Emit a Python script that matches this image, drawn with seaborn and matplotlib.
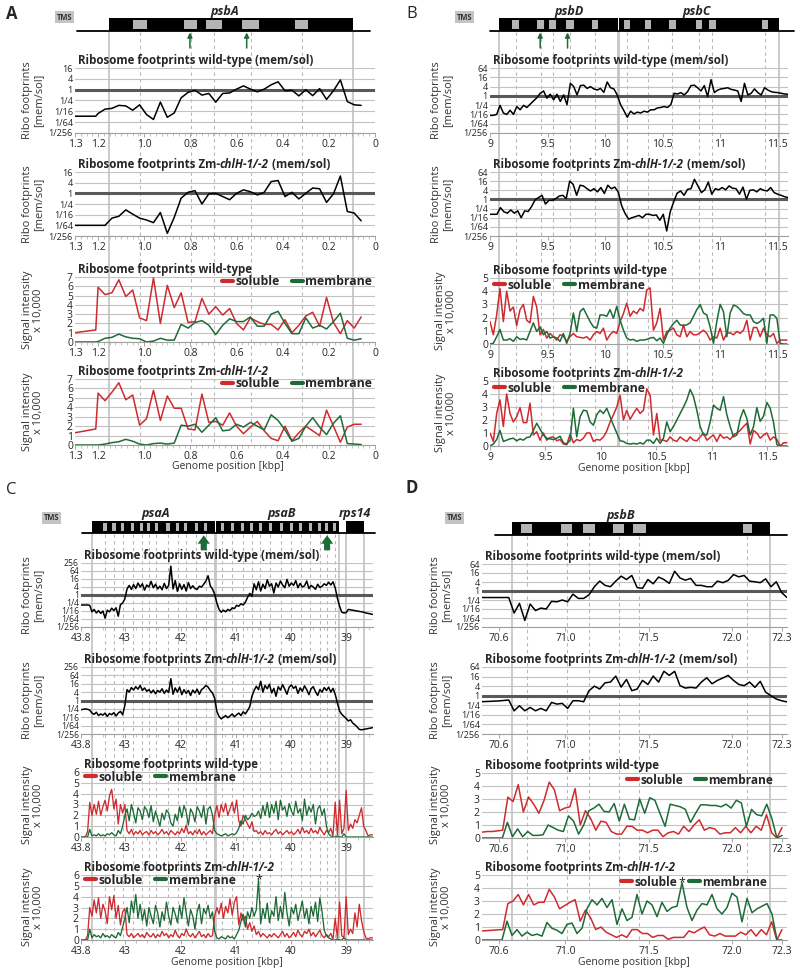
import numpy as np
import matplotlib
matplotlib.use("Agg")
import matplotlib.pyplot as plt
import seaborn as sns
from matplotlib.lines import Line2D
from matplotlib.patches import Rectangle
from matplotlib.ticker import MultipleLocator
from matplotlib.transforms import blended_transform_factory

sns.set_theme(style="white")
plt.rcParams['font.family'] = ['Open Sans', 'DejaVu Sans']

# ---------------- data ----------------
# panel A (psbA), genome position in kbp, ratios as log2(mem/sol)
x_A = [1.30, 1.21, 1.20, 1.17, 1.14, 1.11, 1.08, 1.05, 1.02, 0.99, 0.96, 0.93, 0.90, 0.87,
       0.84, 0.81, 0.78, 0.75, 0.72, 0.69, 0.66, 0.63, 0.60, 0.57, 0.54, 0.51, 0.48, 0.45,
       0.42, 0.39, 0.36, 0.33, 0.30, 0.27, 0.24, 0.21, 0.18, 0.15, 0.12, 0.09, 0.06]
ribo_wt_A = [-4.9, -4.9, -4.4, -3.6, -3.45, -2.9, -3.0, -3.8, -2.8, -4.6, -5.5, -2.3, -5.1, -4.3,
             -1.5, -0.5, -0.1, -1.0, -0.7, -2.3, -0.7, -0.6, 0.1, 0.7, 0.1, -0.4, 0.1, 0.9,
             1.45, -0.2, -0.1, -1.15, 0.0, -1.1, 0.2, -1.8, -0.2, 1.8, -2.2, -2.8, -2.9]
ribo_mut_A = [-6.0, -6.0, -6.0, -6.0, -4.65, -4.3, -3.1, -3.9, -4.65, -5.0, -5.5, -3.6, -7.5, -4.5,
              -0.9, 0.2, 0.5, -2.0, -0.1, 0.0, -0.6, -1.2, 0.0, 0.65, 0.3, -0.3, 0.2, 2.2,
              2.4, -0.6, 0.2, -1.05, 0.0, 1.0, 0.85, -1.7, -0.1, 3.25, -3.4, -3.7, -5.15]
sol_wt_A = [1.0, 1.3, 5.9, 5.1, 5.3, 6.7, 4.9, 5.6, 2.6, 2.3, 6.9, 2.0, 6.1, 3.7, 5.3, 2.1, 2.2,
            4.7, 3.0, 3.8, 2.9, 3.6, 2.0, 1.3, 2.6, 2.2, 1.9, 1.9, 1.3, 2.4, 1.0, 1.8, 2.8, 3.2,
            1.7, 4.8, 2.1, 0.9, 2.3, 1.5, 2.7]
mem_wt_A = [0.0, 0.0, 0.05, 0.4, 0.5, 0.85, 0.55, 0.4, 0.35, 0.0, 0.1, 0.4, 0.2, 0.2, 1.9, 1.5,
            2.1, 2.3, 1.8, 0.8, 1.8, 2.5, 2.2, 2.2, 2.7, 1.7, 1.7, 3.0, 3.3, 2.0, 0.9, 0.9, 2.6,
            1.5, 1.8, 1.4, 2.2, 3.1, 0.4, 0.2, 0.35]
sol_mut_A = [1.3, 1.7, 5.5, 4.7, 5.6, 6.6, 4.8, 5.3, 2.1, 2.8, 5.8, 2.6, 5.2, 3.9, 3.9, 1.7, 1.6,
             5.4, 2.4, 2.5, 2.1, 3.4, 2.0, 1.2, 1.9, 2.5, 1.5, 0.7, 0.45, 2.0, 0.45, 1.3, 2.0,
             1.5, 1.0, 3.7, 2.0, 0.3, 1.9, 2.2, 2.2]
mem_mut_A = [0.0, 0.0, 0.0, 0.1, 0.25, 0.35, 0.6, 0.4, 0.1, 0.0, 0.15, 0.2, 0.1, 0.2, 2.1, 2.0,
             2.2, 1.35, 2.1, 2.9, 1.5, 1.6, 2.2, 1.9, 2.4, 2.0, 1.6, 3.2, 2.6, 1.6, 0.4, 0.7,
             2.0, 2.9, 1.9, 1.1, 2.3, 3.1, 0.15, 0.1, 0.05]

# panel B (psbD/psbC), evenly spaced bins
ribo_wt_B = [-4.2, -4.2, -4.0, -2.05, -3.7, -4.0, -3.1, -4.0, -2.3, -3.0, -2.05, -2.5, -1.8, -1.1,
             -0.4, 0.55, 1.05, -0.5, 0.35, -0.85, 0.35, -1.2, 0.2, -1.9, 2.7, 2.0, 0.2, 2.2, 2.3,
             1.6, 2.0, 1.5, 1.25, 1.6, 0.75, 3.0, 1.75, 1.5, 0.2, -1.9, -3.2, -4.6, -3.3, -3.9,
             -3.5, -3.7, -3.3, -3.5, -3.0, -3.0, -2.6, -2.5, -2.3, -2.5, -1.9, 0.55, 0.4, 0.7,
             0.2, 0.9, 2.2, 2.3, 1.75, 1.05, 2.2, -0.15, 3.5, 0.7, 1.25, 1.5, 1.6, 1.75, 1.4,
             1.25, 1.05, -1.2, 2.7, 0.2, 0.55, 1.5, 0.7, 0.2, 1.75, 1.25, 0.9, 0.75, 0.7, 0.55,
             0.4, 0.35]
ribo_mut_B = [-3.25, -3.25, -3.25, -1.8, -2.7, -3.0, -2.3, -3.0, -2.5, -4.0, -2.5, -2.65, -1.55,
              -0.1, 0.4, 0.9, -1.0, -0.2, -0.2, 0.2, 0.75, 0.9, 0.2, 4.0, 3.3, 0.9, 3.1, 2.95,
              2.35, 1.85, 2.35, 1.65, 2.6, 1.3, 3.1, 2.35, 2.7, 1.65, -1.4, -3.1, -4.3, -4.0,
              -3.75, -3.5, -4.0, -3.25, -3.25, -3.5, -3.4, -4.55, -3.25, -6.9, -2.75, -0.55, 1.35,
              1.85, 0.9, 2.2, 2.35, 4.4, 2.95, 1.5, 2.1, 3.8, 1.15, 2.35, 2.1, 2.6, 2.1, 2.95,
              2.45, 2.35, 1.15, 2.7, 0.05, 2.0, 2.1, 1.65, 2.35, 2.0, 1.85, 2.6, 1.5, 1.15, 0.9,
              0.6, 0.4]
sol_wt_B = [1.7, 0.7, 2.2, 4.2, 1.7, 4.0, 2.5, 2.8, 1.4, 2.6, 3.0, 1.8, 1.6, 3.6, 2.8, 0.7, 1.1,
            0.45, 0.8, 0.55, 0.3, 0.7, 0.6, 0.2, 0.55, 0.8, 0.55, 0.5, 0.45, 0.55, 0.3, 0.7, 0.95,
            0.8, 1.2, 0.3, 0.7, 0.95, 0.8, 1.7, 2.3, 3.1, 2.1, 2.5, 2.3, 2.7, 2.5, 4.1, 4.25, 1.05,
            1.6, 2.7, 0.3, 0.95, 1.05, 1.2, 0.7, 0.55, 1.45, 0.55, 0.95, 0.7, 0.7, 0.85, 1.05, 0.8,
            0.3, 0.55, 0.45, 1.2, 0.3, 0.8, 0.85, 0.7, 0.95, 0.8, 1.05, 1.8, 0.3, 1.25, 1.25, 0.55,
            1.2, 0.7, 0.55, 0.8, 0.05, 0.3, 0.3, 0.3]
mem_wt_B = [0.0, 0.05, 0.55, 1.1, 0.3, 0.3, 0.4, 0.2, 0.55, 0.35, 0.4, 0.3, 0.95, 1.6, 0.95, 1.3,
            0.7, 0.95, 0.45, 0.55, 0.45, 0.2, 0.8, 0.05, 0.8, 2.35, 0.95, 2.45, 2.7, 2.2, 1.7, 1.3,
            1.2, 2.2, 2.2, 2.1, 2.6, 1.95, 2.85, 1.8, 1.05, 0.45, 0.3, 0.35, 0.2, 0.3, 0.3, 0.35,
            0.45, 0.5, 0.25, 0.45, 0.05, 0.7, 1.2, 1.55, 1.8, 1.45, 1.4, 1.45, 1.6, 2.1, 2.6, 3.0,
            2.35, 2.2, 1.3, 0.05, 1.7, 3.0, 2.45, 0.55, 2.35, 2.95, 2.85, 2.6, 2.3, 2.2, 2.2, 1.7,
            1.55, 1.7, 1.95, 0.05, 2.2, 2.2, 1.95, 0.05, 0.0, 0.0]
sol_mut_B = [1.0, 0.35, 2.5, 3.55, 1.5, 4.0, 2.5, 1.85, 2.25, 2.95, 1.8, 1.8, 3.3, 0.85, 1.1, 0.45,
             1.0, 0.45, 0.65, 0.7, 0.4, 0.5, 0.15, 0.1, 0.9, 0.25, 0.5, 0.4, 0.6, 1.0, 1.0, 0.35,
             0.5, 0.45, 0.7, 1.15, 1.85, 2.4, 3.0, 3.9, 2.0, 2.75, 2.05, 2.5, 2.9, 2.5, 2.75, 4.4,
             3.9, 0.85, 2.5, 0.45, 0.45, 0.35, 0.7, 0.45, 0.35, 0.7, 0.5, 0.35, 0.7, 0.45, 0.4,
             0.7, 1.0, 0.45, 0.65, 0.85, 0.35, 0.9, 0.6, 0.7, 0.5, 0.85, 1.0, 1.2, 1.5, 1.75, 0.15,
             1.2, 1.0, 0.6, 0.85, 1.0, 0.45, 0.7, 0.5, 0.0, 0.25, 0.25]
mem_mut_B = [0.0, 0.15, 0.5, 1.2, 0.35, 0.45, 0.55, 0.6, 0.4, 0.55, 0.45, 0.65, 0.7, 1.2, 1.75,
             1.3, 0.85, 0.6, 0.55, 0.5, 0.6, 0.75, 0.25, 0.15, 0.45, 2.9, 0.7, 2.25, 2.75, 2.7,
             1.85, 1.6, 2.4, 2.75, 2.5, 2.9, 2.25, 1.6, 1.0, 0.4, 0.35, 0.2, 0.15, 0.2, 0.15, 0.25,
             0.15, 0.45, 0.45, 0.2, 0.6, 0.2, 0.6, 1.85, 1.1, 1.5, 2.0, 2.5, 3.0, 3.55, 4.35, 3.8,
             2.75, 1.5, 0.85, 0.85, 1.85, 3.15, 2.9, 2.75, 3.8, 2.4, 1.5, 0.7, 0.85, 2.1, 2.8, 2.1,
             0.85, 1.5, 2.95, 1.9, 2.3, 3.35, 2.9, 1.8, 0.1, 0.0, 0.0, 0.0]

# panel C (psaA/psaB/rps14)
ribo_wt_C = [-2.5, -2.5, -2.5, -2.5, -2.6, -4.2, -3.6, -4.5, -3.9, -4.6, -4.0, -5.8, -3.8, -4.2,
             -3.3, -3.9, -3.2, -5.3, -2.4, -2.0, -1.0, 1.5, 2.4, 1.4, 2.6, 1.6, 3.0, 2.0, 2.8, 1.2,
             2.5, 2.0, 3.4, 1.8, 2.7, 1.5, 2.2, 1.3, 2.9, 1.6, 2.4, 7.2, 1.5, 3.6, 0.9, 2.8, 1.4,
             2.6, 1.0, 3.1, 1.6, 2.3, 1.6, 1.4, 2.2, 2.0, 2.7, 3.5, 4.8, 2.3, 1.5, 0.2, -2.0, -3.6,
             -4.3, -3.8, -4.2, -3.6, -3.9, -3.2, -3.4, -2.6, -2.8, -2.2, -2.5, -1.8, -0.6, 0.4,
             -0.3, 2.8, 1.3, 3.3, 1.0, 2.7, 1.6, 3.8, 2.2, 2.8, 0.5, 3.0, 2.0, 3.5, 2.5, 1.8, 3.9,
             2.2, 3.0, 2.4, 3.6, 1.8, 2.9, 2.0, 2.3, 3.5, 1.6, 2.4, 2.0, 1.4, 2.7, 1.9, 2.2, 2.8,
             2.4, 3.2, 2.5, 3.3, 1.8, -0.8, -2.8, -4.3, -4.5, -4.4, -3.6, -3.7, -3.8, -3.9, -4.0,
             -4.1, -4.2, -4.3, -4.5, -4.6, -4.7, -4.85]
ribo_mut_C = [-2.2, -2.1, -2.0, -2.1, -2.3, -3.0, -3.3, -2.8, -3.6, -3.2, -3.5, -3.0, -3.8, -3.1,
              -3.4, -2.9, -3.7, -3.0, -2.6, -3.4, -1.2, 2.6, 2.0, 3.1, 2.5, 3.3, 2.7, 3.6, 2.4,
              3.0, 2.2, 2.6, 1.8, 2.5, 1.6, 2.4, 2.0, 2.8, 1.7, 2.5, 1.9, 5.2, 1.5, 3.0, 2.0, 3.2,
              1.4, 2.6, 1.7, 2.4, 1.2, 2.5, 1.8, 2.7, 1.5, 2.6, 3.0, 3.6, 3.2, 2.4, 1.8, 0.5, -2.6,
              -3.8, -4.4, -4.0, -3.6, -4.1, -3.7, -3.2, -3.9, -3.4, -3.0, -3.6, -2.7, -3.2, -2.4,
              -1.5, 1.0, 2.4, 3.4, 2.6, 4.6, 2.0, 3.6, 2.8, 3.9, 1.8, 2.9, 1.0, 3.3, 2.5, 3.8, 2.7,
              1.5, 3.2, 3.7, 2.9, 3.4, 1.7, 3.0, 2.2, 3.5, 2.6, 1.4, 2.8, 3.3, 2.1, 1.2, 2.6, 2.0,
              3.1, 2.4, 3.2, 2.0, 2.9, 1.5, -0.6, -2.5, -3.3, -3.8, -4.3, -4.9, -4.6, -5.4, -5.8,
              -6.3, -6.9, -7.0, -6.9, -6.8, -6.7, -6.6, -6.5]
sol_wt_C = [0.0, 0.0, 0.0, 0.5, 3.2, 2.0, 3.0, 2.1, 3.3, 2.0, 2.8, 3.4, 2.4, 3.8, 4.4, 2.6, 3.5,
            1.2, 3.0, 2.2, 3.0, 0.6, 0.3, 0.7, 0.2, 0.5, 0.3, 0.6, 0.2, 0.4, 0.5, 0.2, 0.6, 0.3,
            0.5, 0.2, 0.4, 0.7, 0.3, 0.5, 0.2, 0.6, 0.4, 0.2, 0.5, 0.3, 0.8, 0.4, 1.1, 0.3, 0.5,
            0.2, 0.6, 0.3, 0.7, 0.2, 0.5, 0.2, 0.4, 0.6, 0.3, 2.0, 2.9, 1.8, 3.0, 2.3, 3.1, 2.0,
            2.6, 3.2, 2.2, 3.4, 1.5, 1.0, 2.0, 1.6, 1.2, 0.8, 1.4, 0.5, 0.6, 0.3, 0.5, 0.2, 0.6,
            0.3, 0.4, 0.2, 0.5, 0.7, 0.3, 0.5, 0.2, 0.4, 0.6, 0.3, 0.5, 0.2, 0.4, 0.7, 0.3, 0.9,
            0.4, 0.6, 0.3, 0.8, 0.4, 0.6, 0.3, 0.9, 0.5, 0.2, 0.6, 0.4, 0.8, 0.1, 3.2, 0.2, 3.4,
            0.3, 0.8, 4.3, 0.6, 1.2, 0.8, 1.6, 1.3, 2.0, 2.7, 1.0, 0.6, 0.1, 0.2, 0.2]
mem_wt_C = [0.0, 0.0, 0.0, 0.0, 0.7, 0.1, 0.2, 0.1, 0.3, 0.1, 0.2, 0.1, 0.3, 0.2, 0.4, 0.2, 0.1,
            0.6, 0.3, 1.0, 2.0, 2.6, 1.5, 3.0, 2.2, 1.3, 2.7, 2.4, 1.6, 2.8, 2.5, 1.8, 2.9, 1.4,
            2.4, 1.7, 1.0, 2.2, 1.6, 2.5, 2.2, 1.3, 1.0, 2.1, 1.5, 2.8, 1.8, 2.9, 2.3, 1.1, 2.6,
            2.2, 1.4, 2.8, 2.4, 1.8, 2.9, 1.2, 2.6, 2.8, 2.0, 0.6, 0.3, 0.2, 0.1, 0.2, 0.3, 0.1,
            0.2, 0.3, 0.2, 0.4, 0.8, 1.5, 1.2, 2.0, 1.6, 1.8, 2.2, 1.9, 2.0, 2.4, 1.7, 2.9, 2.0,
            3.2, 1.8, 3.0, 2.2, 3.3, 1.6, 3.4, 2.5, 2.8, 1.9, 3.1, 2.4, 2.0, 3.3, 2.2, 2.6, 1.5,
            3.5, 2.0, 2.8, 2.3, 3.0, 1.2, 2.6, 2.9, 2.0, 2.6, 1.0, 0.3, 0.1, 0.0, 0.0, 0.1, 0.0,
            0.0, 0.3, 0.0, 0.0, 0.0, 0.0, 0.0, 0.0, 0.0, 0.0, 0.0, 0.0, 0.0, 0.0, 0.0]
sol_mut_C = [0.0, 0.0, 0.0, 0.4, 3.0, 2.2, 3.7, 2.5, 3.9, 2.0, 3.3, 2.7, 1.5, 4.0, 2.8, 4.1, 2.0,
             3.2, 1.4, 2.6, 2.9, 0.5, 0.3, 0.6, 0.2, 0.4, 0.6, 0.3, 0.5, 0.2, 0.7, 0.4, 0.3, 0.6,
             0.2, 0.5, 0.3, 0.8, 0.4, 0.6, 0.2, 0.5, 0.3, 0.9, 0.4, 0.2, 0.6, 0.4, 1.0, 0.5, 0.3,
             0.6, 0.2, 0.5, 0.8, 0.3, 0.5, 0.2, 0.6, 0.3, 0.4, 2.2, 3.0, 2.4, 3.4, 2.0, 3.1, 2.5,
             3.8, 2.3, 3.5, 4.0, 1.4, 2.5, 1.8, 2.2, 1.0, 1.6, 0.8, 1.3, 0.5, 0.8, 0.3, 0.6, 0.4,
             0.2, 0.5, 0.3, 0.6, 0.4, 0.2, 0.5, 0.8, 0.3, 0.6, 0.2, 0.4, 0.7, 0.3, 0.9, 0.5, 0.3,
             0.8, 0.6, 1.0, 0.4, 0.7, 0.3, 0.6, 0.9, 0.4, 0.2, 0.5, 0.3, 0.6, 0.1, 2.0, 0.2, 3.5,
             0.4, 0.2, 4.0, 0.5, 1.0, 0.6, 2.5, 1.2, 3.3, 1.8, 0.8, 0.2, 0.1, 0.2, 0.2]
mem_mut_C = [0.0, 0.0, 0.0, 0.0, 1.0, 0.2, 0.5, 0.3, 0.4, 0.2, 0.6, 0.3, 0.4, 0.2, 0.5, 0.3, 0.2,
             0.7, 0.4, 1.2, 2.0, 3.0, 1.6, 3.6, 2.5, 4.2, 2.0, 3.3, 1.8, 2.8, 1.3, 3.0, 2.2, 1.5,
             3.2, 2.5, 1.2, 2.6, 1.8, 3.5, 2.2, 1.4, 3.0, 2.4, 1.6, 3.2, 2.0, 3.9, 2.5, 1.3, 2.8,
             2.2, 1.0, 2.6, 3.3, 1.5, 2.9, 2.4, 3.2, 2.0, 2.6, 0.8, 0.2, 0.1, 0.3, 0.2, 0.1, 0.4,
             0.2, 0.3, 0.1, 0.5, 0.9, 1.7, 2.4, 1.2, 2.6, 2.0, 3.0, 2.2, 2.8, 5.6, 1.5, 2.9, 2.0,
             3.4, 1.6, 2.7, 2.2, 4.0, 1.8, 3.1, 2.0, 4.4, 2.5, 1.3, 3.0, 2.4, 3.3, 1.8, 2.7, 3.6,
             2.0, 2.9, 1.5, 3.1, 2.2, 3.5, 1.7, 3.9, 2.6, 0.9, 0.4, 0.2, 0.1, 0.0, 0.0, 0.1, 0.0,
             0.0, 0.2, 0.0, 0.0, 0.0, 0.0, 0.0, 0.0, 0.0, 0.0, 0.0, 0.0, 0.0, 0.0, 0.0]

# panel D (psbB)
ribo_wt_D = [-1.45, -1.45, -1.45, -1.45, -1.45, -1.45, -4.9, -2.75, -6.55, -2.9, -4.35, -3.8,
             -4.0, -2.3, -2.4, -2.0, -2.4, -0.7, -1.65, -1.65, -0.85, 0.95, 2.2, 1.25, 0.95, 2.2,
             3.3, 2.55, 3.45, 0.75, 0.6, 2.55, 1.6, 3.1, 2.55, 1.7, 4.4, 2.9, 2.4, 2.8, 1.25,
             1.25, 0.95, 0.95, 2.2, 1.85, 2.35, 3.65, 3.15, 3.45, 2.2, 2.05, 1.85, 2.7, 0.95,
             2.05, -0.35, -1.45]
ribo_mut_D = [-1.25, -1.2, -1.15, -1.1, -1.0, -0.9, -3.15, -2.1, -3.15, -2.45, -3.15, -2.65,
              -3.15, -1.4, -1.75, -1.6, -2.65, -1.05, -1.05, -1.25, 1.05, 2.0, 1.4, 2.7, 2.85,
              4.1, 1.8, 3.4, 1.05, 1.4, 3.2, 2.35, 4.1, 2.85, 5.1, 4.25, 5.1, 2.1, 1.6, 1.75, 1.6,
              2.85, 3.75, 2.5, 3.2, 3.7, 4.25, 3.2, 2.35, 2.1, 2.85, 1.75, 3.0, 0.75, 0.0, -0.7,
              -1.05, -1.3]
sol_wt_D = [0.45, 0.5, 0.5, 0.55, 0.6, 3.15, 2.8, 4.1, 2.0, 3.15, 2.6, 1.9, 2.9, 4.3, 3.7, 2.1,
            2.3, 2.4, 3.8, 1.0, 2.1, 1.5, 0.6, 1.3, 1.2, 0.5, 0.3, 0.3, 0.9, 0.9, 0.6, 0.6, 0.4,
            0.6, 0.6, 0.1, 0.4, 0.5, 0.3, 0.9, 0.5, 1.0, 1.4, 0.6, 0.8, 0.7, 0.3, 0.4, 0.4, 0.8,
            0.4, 0.9, 0.4, 0.9, 0.6, 1.8, 0.4, 0.0, 0.8]
mem_wt_D = [0.0, 0.0, 0.0, 0.0, 0.0, 1.2, 0.1, 0.7, 0.1, 0.5, 0.2, 0.2, 0.25, 1.0, 0.8, 0.6, 0.5,
            1.7, 1.3, 0.3, 1.0, 2.1, 2.3, 2.6, 2.05, 2.0, 2.65, 1.3, 2.6, 1.45, 1.4, 3.0, 1.9,
            3.1, 2.9, 1.9, 0.9, 2.6, 2.5, 2.4, 2.2, 1.2, 1.9, 2.55, 2.55, 2.5, 2.5, 2.4, 2.6, 2.3,
            2.9, 2.7, 0.9, 2.2, 1.8, 1.7, 2.6, 1.5, 0.0, 0.2]
sol_mut_D = [0.7, 0.72, 0.75, 0.78, 0.8, 2.8, 3.0, 3.5, 2.7, 3.5, 2.7, 2.9, 2.9, 3.9, 3.3, 2.4,
             2.65, 2.9, 3.1, 1.45, 2.3, 1.7, 0.8, 1.0, 0.6, 0.4, 0.2, 0.4, 0.2, 0.8, 0.8, 0.5, 0.5,
             0.2, 0.35, 0.35, 0.05, 0.2, 0.2, 0.2, 0.7, 0.55, 0.8, 1.0, 0.4, 0.3, 0.5, 0.3, 0.3,
             0.3, 0.6, 0.4, 0.8, 0.3, 0.8, 0.4, 1.4, 0.0, 0.8]
mem_mut_D = [0.0, 0.0, 0.0, 0.0, 0.0, 1.45, 0.35, 0.8, 0.3, 0.6, 0.35, 0.45, 0.3, 1.35, 0.9, 0.75,
             0.5, 1.2, 1.3, 0.5, 0.9, 2.4, 3.1, 2.7, 3.2, 2.5, 3.1, 1.2, 2.4, 1.5, 1.75, 3.5, 2.0,
             3.0, 2.7, 1.8, 2.9, 2.2, 2.5, 2.6, 4.4, 2.5, 1.5, 2.3, 2.8, 2.7, 3.5, 2.4, 2.0, 2.5,
             3.6, 3.3, 1.4, 3.2, 2.1, 2.4, 2.6, 2.8, 2.0, 0.0, 0.0]

# gene models (kbp): boxes, TMS stripes, arrows, names
genes_A = [(1.153, 0.094)]
tms_A = [(1.047, 0.989), (0.828, 0.770), (0.734, 0.664), (0.578, 0.501), (0.347, 0.289)]
arrows_A = [0.802, 0.556]
names_A = [('psbA', 0.65)]
genes_B = [(9.081, 10.115), (10.125, 11.508)]
tms_B = [(9.189, 9.255), (9.412, 9.471), (9.514, 9.575), (9.657, 9.726), (9.887, 9.939),
         (10.162, 10.221), (10.343, 10.395), (10.555, 10.616), (10.787, 10.846),
         (10.903, 10.962), (11.36, 11.418)]
arrows_B = [9.436, 9.674]
names_B = [('psbD', 9.69), ('psbC', 10.80)]
genes_C = [(43.607, 41.385), (41.365, 39.143), (39.004, 38.674)]
tms_C = [(43.395, 43.335), (43.235, 43.175), (43.075, 43.015), (42.895, 42.835),
         (42.735, 42.675), (42.605, 42.545), (42.465, 42.405), (42.255, 42.195),
         (42.085, 42.025), (41.935, 41.875), (41.745, 41.685), (41.575, 41.515),
         (41.275, 41.215), (41.095, 41.035), (40.905, 40.845), (40.745, 40.685),
         (40.585, 40.525), (40.405, 40.345), (40.205, 40.145), (40.025, 39.965),
         (39.855, 39.795), (39.685, 39.625), (39.515, 39.455), (39.385, 39.325),
         (39.245, 39.185)]
arrows_C = [41.58, 39.35]
names_C = [('psaA', 42.45), ('psaB', 40.17), ('rps14', 38.85)]
genes_D = [(70.68, 72.23)]
tms_D = [(70.735, 70.80), (70.974, 71.04), (71.104, 71.18), (71.287, 71.353), (71.406, 71.482),
         (72.064, 72.12)]
names_D = [('psbB', 71.33)]

RATIO = {-8: '1/256', -6: '1/64', -4: '1/16', -2: '1/4', 0: '1', 2: '4', 4: '16', 6: '64', 8: '256'}

# ---------------- drawing ----------------
RED = '#cf2a2e'
GREEN = '#1d6b37'
GRID = '#c2c2c2'
W, H = 800, 969
fig = plt.figure(figsize=(8, 9.69), dpi=100)


def px_ax(left, top, right, bottom):
    ax = fig.add_axes([left / W, 1 - bottom / H, (right - left) / W, (bottom - top) / H])
    ax.set_facecolor('none')
    return ax


def style_x(ax, xlim, ticks, labels, minor=None):
    ax.set_xlim(*xlim)
    ax.set_xticks(ticks)
    ax.set_xticklabels(labels)
    if minor:
        ax.xaxis.set_minor_locator(MultipleLocator(minor))
    ax.tick_params(axis='x', which='major', bottom=True, length=3, width=0.6, color='#999',
                   labelsize=7.5, pad=1.5)
    ax.tick_params(axis='x', which='minor', bottom=True, length=2, width=0.5, color='#aaa')
    ax.tick_params(axis='y', length=0, pad=1.5)
    for s in ['top', 'right', 'left']:
        ax.spines[s].set_visible(False)
    ax.spines['bottom'].set_color('#a0a0a0')
    ax.spines['bottom'].set_linewidth(0.8)
    ax.set_xlabel('')
    ax.set_ylabel('')


def title(ax, parts, size=8.3):
    prev = None
    for txt, ital in parts:
        kw = dict(fontsize=size, fontweight='bold', fontstyle='italic' if ital else 'normal',
                  va='bottom', ha='left', annotation_clip=False)
        if prev is None:
            prev = ax.annotate(txt, xy=(0, 1), xycoords='axes fraction', xytext=(2, 0.5),
                               textcoords='offset points', **kw)
        else:
            prev = ax.annotate(txt, xy=(1, 0), xycoords=prev, **kw)


def ribo(ax, pos, vals, top, ysize=6.6):
    sns.lineplot(x=pos, y=vals, ax=ax, color='black', lw=1.1)
    ax.set_ylim(-8, top)
    ticks = list(range(-8, top + 1, 2))
    ax.set_yticks(ticks)
    ax.set_yticklabels([RATIO[t] for t in ticks], fontsize=ysize)
    ax.grid(axis='y', color=GRID, lw=0.8)
    ax.axhline(0, color='#595959', lw=2.2, zorder=1.5)


def signal(ax, pos_s, sol, pos_m, mem, ymax, loc, anchor, lw=1.1, lsize=8.8):
    sns.lineplot(x=pos_s, y=sol, ax=ax, color=RED, lw=lw)
    sns.lineplot(x=pos_m, y=mem, ax=ax, color=GREEN, lw=lw)
    ax.set_ylim(0, ymax)
    ax.set_yticks(range(0, ymax + 1))
    ax.set_yticklabels([str(v) for v in range(0, ymax + 1)], fontsize=7.5)
    ax.grid(axis='y', color=GRID, lw=0.8)
    handles = [Line2D([], [], color=RED, lw=3), Line2D([], [], color=GREEN, lw=3)]
    ax.legend(handles, ['soluble', 'membrane'], loc=loc, bbox_to_anchor=anchor, ncol=2,
              frameon=False, handlelength=0.9, handletextpad=0.2, columnspacing=1.0,
              borderpad=0, borderaxespad=0, prop={'weight': 'bold', 'size': lsize})


def star(ax, pos, vals):
    i = int(np.argmax(vals))
    ax.text(pos[i], vals[i], '*', ha='center', va='center', fontsize=9, color='#222')


def gene_track(gax, xlim, top_px, bot_px, genes, tms, arrows, names, bar, base, vline_end,
               block=False):
    gax.set_xlim(*xlim)
    gax.set_ylim(bot_px, top_px)
    gax.axis('off')
    y0, y1 = bar
    gax.plot([base[0], base[1]], [y1, y1], color='black', lw=1.3, clip_on=False, zorder=1)
    for a, b in genes:
        gax.add_patch(Rectangle((min(a, b), y0), abs(b - a), y1 - y0, fc='black', ec='none',
                                zorder=2))
    for a, b in tms:
        gax.add_patch(Rectangle((min(a, b), y0 + 2.0), abs(b - a), y1 - y0 - 4.0,
                                fc='#b4b4b4', ec='none', zorder=3))
    for name, xc in names:
        gax.text(xc, y0 - 0.5, name, ha='center', va='bottom', fontsize=9, fontweight='bold',
                 fontstyle='italic')
    for xa in arrows:
        if block:
            gax.annotate('', xy=(xa, y1 + 2), xytext=(xa, y1 + 17),
                         arrowprops=dict(arrowstyle='simple,head_width=0.8,head_length=0.55,'
                                                    'tail_width=0.4', fc=GREEN, ec='none',
                                         mutation_scale=11, shrinkA=0, shrinkB=0))
        else:
            gax.annotate('', xy=(xa, y1 + 1.5), xytext=(xa, y1 + 17),
                         arrowprops=dict(arrowstyle='-|>', color=GREEN, lw=1.1,
                                         mutation_scale=7, shrinkA=0, shrinkB=0))
    tr = blended_transform_factory(gax.transData, fig.transFigure)
    ya, yb = 1 - (y1 + 1) / H, 1 - vline_end / H
    solid = [g for pair in genes for g in pair]
    for xs in solid:
        fig.add_artist(Line2D([xs, xs], [ya, yb], transform=tr, color='#c6c6c6', lw=1.3,
                              zorder=-1))
    for a, b in tms:
        xm = (a + b) / 2
        fig.add_artist(Line2D([xm, xm], [ya, yb], transform=tr, color='#b8b8b8', lw=0.8,
                              ls=(0, (3, 3)), zorder=-1))


def ylab(x, y, txt):
    fig.text(x / W, 1 - y / H, txt, rotation=90, ha='center', va='center', fontsize=8,
             linespacing=1.0, color='#333')


def label(x, y, txt, bold):
    fig.text(x / W, 1 - y / H, txt, fontsize=12, fontweight='bold' if bold else 'normal',
             va='center', ha='left')


def tms_tag(x, y):
    fig.text(x / W, 1 - y / H, 'TMS', fontsize=5.5, fontweight='bold', color='#333',
             va='center', ha='left',
             bbox=dict(boxstyle='square,pad=0.2', fc='#c4c4c4', ec='none'))


WT = [('Ribosome footprints wild-type (mem/sol)', False)]
MUT = [('Ribosome footprints Zm-', False), ('chlH-1/-2', True), (' (mem/sol)', False)]
WT_S = [('Ribosome footprints wild-type', False)]
MUT_S = [('Ribosome footprints Zm-', False), ('chlH-1/-2', True)]

# ----- panel A -----
xlA = (1.3, 0.0)
tA = [1.3, 1.2, 1.0, 0.8, 0.6, 0.4, 0.2, 0.0]
lA = ['1.3', '1.2', '1.0', '0.8', '0.6', '0.4', '0.2', '0']
a1 = px_ax(75, 68, 375, 133)
ribo(a1, x_A, ribo_wt_A, 4)
style_x(a1, xlA, tA, lA, 0.025)
title(a1, WT)
a2 = px_ax(75, 172, 375, 236)
ribo(a2, x_A, ribo_mut_A, 4)
style_x(a2, xlA, tA, lA, 0.025)
title(a2, MUT)
a3 = px_ax(75, 277, 375, 342)
signal(a3, x_A, sol_wt_A, x_A, mem_wt_A, 7, 'upper right', (0.99, 1.03))
style_x(a3, xlA, tA, lA, 0.025)
title(a3, WT_S)
a4 = px_ax(75, 379, 375, 445)
signal(a4, x_A, sol_mut_A, x_A, mem_mut_A, 7, 'upper right', (0.99, 1.03))
style_x(a4, xlA, tA, lA, 0.025)
title(a4, MUT_S)
gA = px_ax(75, 0, 375, 60)
gene_track(gA, xlA, 0, 60, genes_A, tms_A, arrows_A, names_A, (18.3, 31), (1.293, 0.02), 445)

# ----- panel B -----
tB = [9, 9.5, 10, 10.5, 11, 11.5]
lB = ['9', '9.5', '10', '10.5', '11', '11.5']
b1 = px_ax(490, 68, 788, 133)
ribo(b1, np.linspace(9.0, 11.59, len(ribo_wt_B)), ribo_wt_B, 6)
style_x(b1, (9, 11.59), tB, lB)
title(b1, WT)
b2 = px_ax(490, 172, 788, 236)
ribo(b2, np.linspace(9.0, 11.59, len(ribo_mut_B)), ribo_mut_B, 6)
style_x(b2, (9, 11.59), tB, lB)
title(b2, MUT)
b3 = px_ax(490, 278, 788, 344)
signal(b3, np.linspace(9.0, 11.58, len(sol_wt_B)), sol_wt_B,
       np.linspace(9.0, 11.58, len(mem_wt_B)), mem_wt_B, 5, 'upper left', (0.015, 0.99))
style_x(b3, (9, 11.59), tB, lB)
title(b3, WT_S)
b4 = px_ax(490, 381, 788, 446)
signal(b4, np.linspace(9.0, 11.68, len(sol_mut_B)), sol_mut_B,
       np.linspace(9.0, 11.68, len(mem_mut_B)), mem_mut_B, 5, 'upper left', (0.015, 0.99))
style_x(b4, (9, 11.69), tB, lB)
title(b4, MUT_S)
gB = px_ax(490, 0, 788, 60)
gene_track(gB, (9, 11.59), 0, 60, genes_B, tms_B, arrows_B, names_B, (18.3, 31), (9.0, 11.64),
           446)

# ----- panel C -----
xlC = (43.8, 38.52)
tC = [43.8, 43, 42, 41, 40, 39]
lC = ['43.8', '43', '42', '41', '40', '39']
c1 = px_ax(81, 563, 373, 627)
ribo(c1, np.linspace(43.8, 38.53, len(ribo_wt_C)), ribo_wt_C, 8, ysize=6.2)
style_x(c1, xlC, tC, lC, 0.2)
title(c1, WT)
c2 = px_ax(81, 667, 373, 734)
ribo(c2, np.linspace(43.8, 38.53, len(ribo_mut_C)), ribo_mut_C, 8, ysize=6.2)
style_x(c2, xlC, tC, lC, 0.2)
title(c2, MUT)
c3 = px_ax(81, 772, 373, 837)
signal(c3, np.linspace(43.8, 38.53, len(sol_wt_C)), sol_wt_C,
       np.linspace(43.8, 38.53, len(mem_wt_C)), mem_wt_C, 6, 'upper left', (0.015, 1.02),
       lw=0.95)
style_x(c3, xlC, tC, lC, 0.2)
title(c3, WT_S)
c4 = px_ax(81, 875, 373, 940)
signal(c4, np.linspace(43.8, 38.53, len(sol_mut_C)), sol_mut_C,
       np.linspace(43.8, 38.53, len(mem_mut_C)), mem_mut_C, 6, 'upper left', (0.015, 1.02),
       lw=0.95)
star(c4, np.linspace(43.8, 38.53, len(mem_mut_C)), mem_mut_C)
style_x(c4, xlC, tC, lC, 0.2)
title(c4, MUT_S)
gC = px_ax(81, 500, 373, 560)
gene_track(gC, xlC, 500, 560, genes_C, tms_C, arrows_C, names_C, (521, 533.3),
           (43.79, 38.49), 940, block=True)

# ----- panel D -----
xlD = (70.5, 72.33)
tD = [70.6, 71.0, 71.5, 72.0, 72.3]
lD = ['70.6', '71.0', '71.5', '72.0', '72.3']
d1 = px_ax(482, 564, 787, 627)
ribo(d1, np.linspace(70.5, 72.33, len(ribo_wt_D)), ribo_wt_D, 6)
style_x(d1, xlD, tD, lD)
title(d1, WT)
d2 = px_ax(482, 667, 787, 734)
ribo(d2, np.linspace(70.5, 72.33, len(ribo_mut_D)), ribo_mut_D, 6)
style_x(d2, xlD, tD, lD)
title(d2, MUT)
d3 = px_ax(482, 773, 787, 838)
signal(d3, np.linspace(70.5, 72.3, len(sol_wt_D)), sol_wt_D,
       np.linspace(70.5, 72.3, len(mem_wt_D)), mem_wt_D, 5, 'upper right', (0.955, 0.99),
       lsize=8.6)
style_x(d3, xlD, tD, lD)
title(d3, WT_S)
d4 = px_ax(482, 875, 787, 940)
signal(d4, np.linspace(70.5, 72.3, len(sol_mut_D)), sol_mut_D,
       np.linspace(70.5, 72.3, len(mem_mut_D)), mem_mut_D, 5, 'upper right', (0.935, 0.99),
       lsize=8.6)
star(d4, np.linspace(70.5, 72.3, len(mem_mut_D)), mem_mut_D)
style_x(d4, xlD, tD, lD)
title(d4, MUT_S)
gD = px_ax(482, 500, 787, 560)
gene_track(gD, xlD, 500, 560, genes_D, tms_D, [], names_D, (522, 535), (70.577, 72.33), 940)

# ----- labels -----
for x, y, t, bold in [(6, 14, 'A', True), (406, 14, 'B', False), (6, 490, 'C', False),
                      (406, 488, 'D', True)]:
    label(x, y, t, bold)
for x, y in [(57, 17), (457, 17), (44, 518), (447, 518)]:
    tms_tag(x, y)
RIBO_Y = 'Ribo footprints\n[mem/sol]'
SIG_Y = 'Signal intensity\nx 10,000'
for x, y, t in [(33, 100, RIBO_Y), (33, 204, RIBO_Y), (33, 310, SIG_Y), (33, 412, SIG_Y),
                (442, 100, RIBO_Y), (442, 204, RIBO_Y), (446, 311, SIG_Y), (446, 413, SIG_Y),
                (33, 595, RIBO_Y), (33, 700, RIBO_Y), (33, 805, SIG_Y), (33, 907, SIG_Y),
                (441, 595, RIBO_Y), (441, 700, RIBO_Y), (441, 805, SIG_Y), (441, 907, SIG_Y)]:
    ylab(x, y, t)
for x, y in [(228, 467), (634, 469), (227, 962), (634, 963)]:
    fig.text(x / W, 1 - y / H, 'Genome position [kbp]', ha='center', va='center', fontsize=7.5,
             color='#333')

fig.savefig('out.png', dpi=100)
